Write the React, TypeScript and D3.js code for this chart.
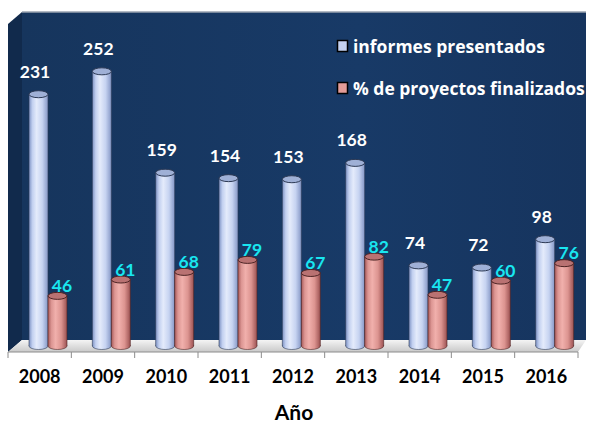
import { useEffect, useRef } from 'react'
import * as d3 from 'd3'

// Cilindros 3D (estilo Excel) — informes presentados vs % de proyectos finalizados
const YEARS = ['2008', '2009', '2010', '2011', '2012', '2013', '2014', '2015', '2016']
const INFORMES = [231, 252, 159, 154, 153, 168, 74, 72, 98]
const FINALIZADOS = [46, 61, 68, 79, 67, 82, 47, 60, 76]
const SERIES_NAMES = ['informes presentados', '% de proyectos finalizados']

const FONT = 'Lato, "Open Sans", sans-serif'
const LEGEND_FONT = '"Open Sans", Lato, sans-serif'

export default function App() {
  const ref = useRef<SVGSVGElement | null>(null)

  useEffect(() => {
    const W = 591, H = 424
    const svg = d3.select(ref.current)
    svg.selectAll('*').remove()
    svg.attr('width', W).attr('height', H).attr('viewBox', `0 0 ${W} ${H}`)

    // paredes del gráfico 3D
    const front = { left: 8, right: 578, bottom: 352 }
    const back = { left: 22, right: 586, top: 12, bottom: 340 }

    const x = d3.scaleBand().domain(YEARS).range([front.left, front.right])
    const inner = d3.scaleBand().domain(['a', 'b']).range([21, 59])
    const y = d3.scaleLinear().domain([0, 300]).range([346, 19])

    const defs = svg.append('defs')
    const wall = defs.append('linearGradient').attr('id', 'wall').attr('x1', 0).attr('x2', 1).attr('y1', 0).attr('y2', 0)
    wall.append('stop').attr('offset', '0%').attr('stop-color', '#16355d')
    wall.append('stop').attr('offset', '60%').attr('stop-color', '#183a67')
    wall.append('stop').attr('offset', '100%').attr('stop-color', '#16345e')

    const floor = defs.append('linearGradient').attr('id', 'floor').attr('x1', 0).attr('x2', 0).attr('y1', 0).attr('y2', 1)
    floor.append('stop').attr('offset', '0%').attr('stop-color', '#f4f4f4')
    floor.append('stop').attr('offset', '100%').attr('stop-color', '#c9c9c9')

    function cylGrad(id: string, stops: [number, string][]) {
      const g = defs.append('linearGradient').attr('id', id).attr('x1', 0).attr('x2', 1).attr('y1', 0).attr('y2', 0)
      stops.forEach(([o, c]) => g.append('stop').attr('offset', `${o}%`).attr('stop-color', c))
    }
    cylGrad('blueCyl', [[0, '#7e93c4'], [18, '#c2d0f0'], [40, '#e4ebfb'], [70, '#c6d3f1'], [100, '#8597c6']])
    cylGrad('redCyl', [[0, '#a75a5a'], [18, '#dc9693'], [40, '#f1b0ac'], [70, '#dc9490'], [100, '#9c5252']])

    // pared trasera
    svg.append('rect')
      .attr('x', back.left).attr('y', back.top)
      .attr('width', back.right - back.left).attr('height', back.bottom - back.top)
      .attr('fill', 'url(#wall)')
    svg.append('line')
      .attr('x1', back.left).attr('x2', back.right).attr('y1', back.top).attr('y2', back.top)
      .attr('stroke', '#9aa3b0').attr('stroke-width', 1.5)
    // pared lateral
    svg.append('polygon')
      .attr('points', `${front.left},${back.top + 12} ${back.left},${back.top} ${back.left},${back.bottom} ${front.left},${front.bottom}`)
      .attr('fill', '#112a4c')
    // suelo
    svg.append('polygon')
      .attr('points', `${front.left},${front.bottom} ${back.left},${back.bottom} ${back.right},${back.bottom} ${front.right},${front.bottom}`)
      .attr('fill', 'url(#floor)')

    // eje X
    svg.append('line')
      .attr('x1', front.left).attr('x2', front.right).attr('y1', front.bottom).attr('y2', front.bottom)
      .attr('stroke', '#8c8c8c')
    const edges = [...YEARS.map(d => x(d) as number), front.right]
    svg.selectAll('line.tick').data(edges).join('line')
      .attr('class', 'tick')
      .attr('x1', d => d).attr('x2', d => d)
      .attr('y1', front.bottom).attr('y2', front.bottom + 6)
      .attr('stroke', '#8c8c8c')

    svg.selectAll('text.year').data(YEARS).join('text')
      .attr('class', 'year')
      .attr('x', d => (x(d) as number) + x.bandwidth() / 2)
      .attr('y', 383)
      .attr('text-anchor', 'middle')
      .attr('font-family', FONT).attr('font-weight', 700).attr('font-size', 18)
      .attr('fill', '#000')
      .text(d => d)

    svg.append('text')
      .attr('x', 294).attr('y', 420)
      .attr('text-anchor', 'middle')
      .attr('font-family', FONT).attr('font-weight', 700).attr('font-size', 21)
      .attr('fill', '#000')
      .text('Año')

    const cw = inner.bandwidth()
    const ry = 3.5

    function cylinder(cx: number, v: number, grad: string, top: string, edge: string) {
      const yt = y(v), yb = y(0)
      const g = svg.append('g')
      g.append('ellipse').attr('cx', cx).attr('cy', yb).attr('rx', cw / 2).attr('ry', ry)
        .attr('fill', `url(#${grad})`).attr('stroke', edge).attr('stroke-width', 0.6)
      g.append('rect').attr('x', cx - cw / 2).attr('y', yt).attr('width', cw).attr('height', yb - yt)
        .attr('fill', `url(#${grad})`)
      g.append('line').attr('x1', cx - cw / 2).attr('x2', cx - cw / 2).attr('y1', yt).attr('y2', yb)
        .attr('stroke', edge).attr('stroke-width', 0.6)
      g.append('line').attr('x1', cx + cw / 2).attr('x2', cx + cw / 2).attr('y1', yt).attr('y2', yb)
        .attr('stroke', edge).attr('stroke-width', 0.6)
      g.append('ellipse').attr('cx', cx).attr('cy', yt).attr('rx', cw / 2).attr('ry', ry)
        .attr('fill', top).attr('stroke', edge).attr('stroke-width', 1)
    }

    YEARS.forEach((yr, i) => {
      const x0 = x(yr) as number
      const cb = x0 + (inner('a') as number) + cw / 2
      const cr = x0 + (inner('b') as number) + cw / 2
      cylinder(cb, INFORMES[i], 'blueCyl', '#9fb0d6', '#2d3a55')
      cylinder(cr, FINALIZADOS[i], 'redCyl', '#b97272', '#4d2424')
    })

    // etiquetas de valores
    YEARS.forEach((yr, i) => {
      const x0 = x(yr) as number
      const cb = x0 + (inner('a') as number) + cw / 2
      const cr = x0 + (inner('b') as number) + cw / 2
      svg.append('text')
        .attr('x', cb - 3.5).attr('y', y(INFORMES[i]) - 16.5)
        .attr('text-anchor', 'middle')
        .attr('font-family', FONT).attr('font-weight', 700).attr('font-size', 17.5)
        .attr('fill', '#ffffff')
        .text(INFORMES[i])
      svg.append('text')
        .attr('x', cr + 4.5).attr('y', y(FINALIZADOS[i]) - 4)
        .attr('text-anchor', 'middle')
        .attr('font-family', FONT).attr('font-weight', 700).attr('font-size', 17.5)
        .attr('fill', '#19e6f0')
        .text(FINALIZADOS[i])
    })

    // leyenda
    const legendFill = ['#c4d1f0', '#e39c98']
    SERIES_NAMES.forEach((name, i) => {
      const ly = 53 + i * 42
      svg.append('rect')
        .attr('x', 337.5).attr('y', ly - 12.5).attr('width', 10).attr('height', 11)
        .attr('fill', legendFill[i]).attr('stroke', '#000').attr('stroke-width', 1.5)
      svg.append('text')
        .attr('x', 353).attr('y', ly)
        .attr('font-family', LEGEND_FONT).attr('font-weight', 700).attr('font-size', 17.5)
        .attr('fill', '#ffffff')
        .text(name)
    })
  }, [])

  return (
    <>
      <style>{'body{margin:0}'}</style>
      <svg ref={ref} style={{ display: 'block', background: '#fff' }} />
    </>
  )
}
